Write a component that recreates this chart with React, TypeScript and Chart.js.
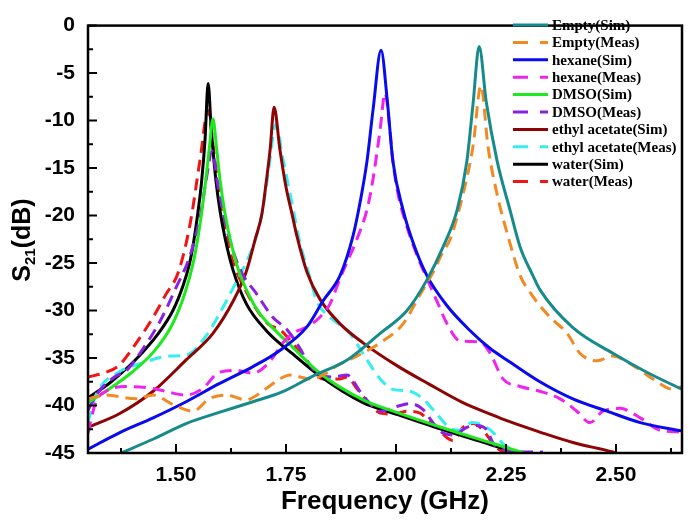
import React, { useEffect, useRef } from "react";
import { Chart, registerables } from "chart.js";

Chart.register(...registerables);

// ---- axis ticks ----
const xMajorTicks = [1.5, 1.75, 2.0, 2.25, 2.5];
const xMinorTicks = [1.375, 1.625, 1.875, 2.125, 2.375, 2.625];
const yMajorTicks = [0, -5, -10, -15, -20, -25, -30, -35, -40, -45];
const yMinorTicks = [-2.5, -7.5, -12.5, -17.5, -22.5, -27.5, -32.5, -37.5, -42.5];

// ---- series (frequency GHz, S21 dB) ----
const emptySim: number[][] = [
  [1.375, -45.0], [1.45, -43.5], [1.523, -41.9], [1.6, -40.7], [1.675, -39.6], [1.74, -38.6],
  [1.811, -36.9], [1.889, -35.2], [1.964, -32.4], [2.025, -30.0], [2.07, -26.8], [2.107, -23.3],
  [2.139, -19.4], [2.161, -14.3], [2.175, -8.3], [2.189, -2.2], [2.205, -8.0], [2.23, -14.3],
  [2.259, -19.4], [2.282, -23.3], [2.311, -26.3], [2.327, -27.8], [2.402, -31.8], [2.493, -34.5],
  [2.57, -36.5], [2.65, -38.3],
];
const emptyMeas: number[][] = [
  [1.3, -39.3], [1.341, -38.9], [1.409, -39.3], [1.448, -38.9], [1.493, -39.9], [1.539, -40.6],
  [1.575, -39.3], [1.614, -38.9], [1.659, -39.4], [1.705, -38.2], [1.736, -37.2], [1.759, -36.8],
  [1.805, -37.2], [1.834, -36.8], [1.866, -35.8], [1.911, -34.8], [1.964, -33.4], [2.016, -31.4],
  [2.055, -28.3], [2.084, -26.0], [2.107, -23.8], [2.123, -22.5], [2.152, -17.8], [2.175, -12.7],
  [2.193, -6.3], [2.209, -12.7], [2.23, -17.8], [2.259, -22.9], [2.282, -26.3], [2.311, -28.5],
  [2.35, -30.7], [2.389, -32.4], [2.418, -34.5], [2.457, -35.3], [2.493, -34.8], [2.539, -35.8],
  [2.584, -37.2], [2.63, -38.3], [2.65, -38.0],
];
const hexaneSim: number[][] = [
  [1.3, -44.6], [1.37, -42.9], [1.448, -41.3], [1.523, -39.6], [1.598, -37.7], [1.675, -35.9],
  [1.736, -34.2], [1.798, -31.7], [1.834, -29.0], [1.873, -26.3], [1.902, -22.2], [1.92, -18.2],
  [1.934, -14.3], [1.948, -8.8], [1.966, -2.6], [1.98, -7.8], [1.993, -14.3], [2.016, -19.4],
  [2.04, -23.0], [2.07, -26.3], [2.116, -29.5], [2.168, -32.1], [2.214, -34.0], [2.252, -35.2],
  [2.327, -37.5], [2.402, -39.3], [2.48, -40.6], [2.555, -41.8], [2.65, -42.7],
];
const hexaneMeas: number[][] = [
  [1.3, -42.9], [1.318, -39.6], [1.341, -38.5], [1.386, -38.0], [1.448, -38.2], [1.484, -38.6],
  [1.523, -38.9], [1.561, -38.2], [1.598, -36.5], [1.636, -36.3], [1.675, -36.6], [1.711, -35.5],
  [1.743, -33.4], [1.766, -32.4], [1.798, -31.7], [1.827, -30.7], [1.85, -29.3], [1.873, -26.6],
  [1.889, -24.9], [1.911, -22.5], [1.934, -19.4], [1.948, -16.1], [1.964, -10.9], [1.975, -7.1],
  [1.986, -10.9], [1.993, -14.3], [2.005, -17.8], [2.025, -21.2], [2.048, -24.2], [2.07, -26.6],
  [2.093, -29.0], [2.116, -31.4], [2.145, -33.2], [2.191, -33.3], [2.214, -34.5], [2.243, -37.2],
  [2.282, -38.0], [2.327, -38.5], [2.373, -39.3], [2.411, -40.6], [2.441, -41.8], [2.47, -40.6],
  [2.509, -40.3], [2.555, -41.3], [2.6, -42.6], [2.65, -42.8],
];
const dmsoSim: number[][] = [
  [1.3, -39.7], [1.35, -38.2], [1.4, -36.5], [1.45, -34.3], [1.49, -31.6], [1.52, -28.2],
  [1.54, -24.8], [1.555, -20.8], [1.567, -16.5], [1.576, -12.8], [1.584, -9.8], [1.592, -12.8],
  [1.6, -16.2], [1.613, -20.2], [1.639, -25.3], [1.665, -28.3], [1.69, -30.3], [1.73, -32.3],
  [1.766, -33.9], [1.827, -36.6], [1.925, -39.4], [2.0, -40.7], [2.116, -42.5], [2.214, -43.9],
  [2.29, -45.0],
];
const dmsoMeas: number[][] = [
  [1.3, -40.5], [1.32, -38.8], [1.36, -37.0], [1.39, -36.2], [1.418, -34.5], [1.464, -31.1],
  [1.5, -27.6], [1.532, -24.2], [1.555, -20.1], [1.568, -16.4], [1.582, -13.2], [1.595, -16.8],
  [1.616, -21.5], [1.645, -25.6], [1.684, -28.3], [1.72, -30.7], [1.752, -32.0], [1.782, -34.0],
  [1.798, -35.3], [1.827, -36.8], [1.857, -37.0], [1.889, -36.8], [1.918, -38.5], [1.941, -39.8],
  [1.964, -40.6], [2.002, -40.1], [2.032, -39.8], [2.061, -40.4], [2.084, -41.8], [2.107, -42.9],
  [2.13, -43.1], [2.161, -42.3], [2.184, -42.1], [2.207, -42.6], [2.22, -43.9], [2.252, -44.7],
  [2.298, -44.9], [2.334, -44.9],
];
const ethylSim: number[][] = [
  [1.3, -42.3], [1.37, -40.9], [1.448, -38.5], [1.523, -35.2], [1.584, -32.4], [1.63, -29.0],
  [1.659, -26.0], [1.68, -22.5], [1.695, -19.9], [1.705, -16.5], [1.714, -13.0], [1.723, -8.6],
  [1.736, -13.0], [1.75, -17.0], [1.764, -19.9], [1.775, -22.2], [1.798, -26.0], [1.827, -28.8],
  [1.873, -31.4], [1.925, -33.4], [2.002, -35.8], [2.077, -37.8], [2.152, -39.7], [2.214, -40.9],
  [2.252, -41.6], [2.327, -42.8], [2.402, -43.9], [2.493, -44.9], [2.5, -45.0],
];
const ethylMeas: number[][] = [
  [1.3, -41.8], [1.318, -38.9], [1.37, -36.5], [1.425, -35.5], [1.484, -34.8], [1.523, -34.7],
  [1.568, -32.7], [1.598, -30.4], [1.63, -27.6], [1.675, -23.2], [1.695, -19.9], [1.709, -15.7],
  [1.727, -10.4], [1.743, -14.0], [1.764, -18.8], [1.782, -22.9], [1.805, -26.6], [1.82, -29.0],
  [1.85, -30.7], [1.895, -32.4], [1.934, -35.2], [1.964, -37.2], [1.993, -38.3], [2.032, -38.5],
  [2.061, -39.3], [2.093, -40.9], [2.123, -42.4], [2.145, -42.6], [2.173, -41.8], [2.198, -42.1],
  [2.22, -42.8], [2.243, -44.0], [2.266, -44.7], [2.3, -45.0],
];
const waterSim: number[][] = [
  [1.3, -39.2], [1.35, -37.6], [1.39, -36.0], [1.42, -34.6], [1.457, -32.6], [1.493, -30.0],
  [1.516, -27.4], [1.53, -25.2], [1.54, -22.8], [1.55, -19.6], [1.558, -16.5], [1.566, -12.0],
  [1.573, -6.1], [1.58, -10.8], [1.59, -16.0], [1.6, -19.5], [1.612, -22.5], [1.63, -25.8],
  [1.66, -29.3], [1.707, -32.2], [1.766, -34.6], [1.827, -36.9], [1.925, -39.7], [2.0, -40.9],
  [2.116, -42.7], [2.214, -44.1], [2.277, -45.0],
];
const waterMeas: number[][] = [
  [1.3, -37.0], [1.341, -36.5], [1.37, -35.8], [1.41, -33.4], [1.448, -30.7], [1.477, -28.3],
  [1.505, -26.0], [1.532, -20.9], [1.555, -14.0], [1.573, -8.9], [1.586, -13.3], [1.602, -19.1],
  [1.625, -24.2], [1.655, -27.6], [1.709, -31.4], [1.736, -32.0], [1.766, -33.5], [1.798, -35.4],
  [1.834, -37.2], [1.873, -37.2], [1.889, -37.0], [1.911, -38.2], [1.941, -39.9], [1.964, -40.8],
  [1.993, -40.9], [2.025, -40.6], [2.055, -40.8], [2.07, -41.4], [2.093, -42.3], [2.116, -43.4],
  [2.13, -43.7], [2.152, -42.3], [2.175, -41.9], [2.198, -42.6], [2.22, -44.0], [2.236, -44.7],
  [2.248, -45.0],
];

const seriesLabels = [
  "Empty(Sim)", "Empty(Meas)", "hexane(Sim)", "hexane(Meas)", "DMSO(Sim)",
  "DMSO(Meas)", "ethyl acetate(Sim)", "ethyl acetate(Meas)", "water(Sim)", "water(Meas)",
];
const seriesData = [
  emptySim, emptyMeas, hexaneSim, hexaneMeas, dmsoSim,
  dmsoMeas, ethylSim, ethylMeas, waterSim, waterMeas,
];
const seriesColors = [
  "#178b8b", "#f28a24", "#0a0aee", "#f022f0", "#1ee81e",
  "#8a1fe6", "#8e0404", "#36eef0", "#000000", "#f21414",
];
const seriesDashed = [false, true, false, true, false, true, false, true, false, true];

const SANS = "'Liberation Sans', Arial, sans-serif";
const SERIF = "'Liberation Serif', 'Times New Roman', serif";

const decorPlugin = {
  id: "decor",
  afterDatasetsDraw(chart: any) {
    const { ctx, chartArea } = chart;
    const xs = chart.scales.x;
    const ys = chart.scales.y;
    const { left, right, top, bottom } = chartArea;
    ctx.save();
    ctx.strokeStyle = "#000";
    ctx.lineWidth = 2;
    ctx.setLineDash([]);
    ctx.beginPath();
    for (const v of xMajorTicks) {
      const p = xs.getPixelForValue(v);
      ctx.moveTo(p, bottom);
      ctx.lineTo(p, bottom - 9);
    }
    for (const v of xMinorTicks) {
      const p = xs.getPixelForValue(v);
      ctx.moveTo(p, bottom);
      ctx.lineTo(p, bottom - 5);
    }
    for (const v of yMajorTicks) {
      const p = ys.getPixelForValue(v);
      ctx.moveTo(left, p);
      ctx.lineTo(left + 9, p);
    }
    for (const v of yMinorTicks) {
      const p = ys.getPixelForValue(v);
      ctx.moveTo(left, p);
      ctx.lineTo(left + 5, p);
    }
    ctx.stroke();
    ctx.lineWidth = 2.5;
    ctx.strokeRect(left, top, right - left, bottom - top);

    // legend
    const lx0 = 513, lx1 = 548, ly0 = 25, dy = 17.4;
    ctx.textBaseline = "middle";
    ctx.textAlign = "left";
    ctx.font = `bold 15px ${SERIF}`;
    seriesLabels.forEach((lab, i) => {
      const y = ly0 + i * dy;
      ctx.strokeStyle = seriesColors[i];
      ctx.lineWidth = 3;
      ctx.setLineDash(seriesDashed[i] ? [15, 12] : []);
      ctx.beginPath();
      ctx.moveTo(lx0, y);
      ctx.lineTo(lx1, y);
      ctx.stroke();
      ctx.setLineDash([]);
      ctx.fillStyle = "#000";
      ctx.fillText(lab, 552, y + 1);
    });

    // x title
    ctx.fillStyle = "#000";
    ctx.textAlign = "center";
    ctx.textBaseline = "middle";
    ctx.font = `bold 26px ${SANS}`;
    ctx.fillText("Frequency (GHz)", (left + right) / 2, 502);

    // y title with subscript
    ctx.save();
    ctx.translate(23, 240);
    ctx.rotate(-Math.PI / 2);
    ctx.textAlign = "left";
    ctx.textBaseline = "middle";
    const big = `bold 25px ${SANS}`;
    const small = `bold 15px ${SANS}`;
    ctx.font = big;
    const wS = ctx.measureText("S").width;
    const wRest = ctx.measureText("(dB)").width;
    ctx.font = small;
    const wSub = ctx.measureText("21").width;
    const total = wS + wSub + wRest;
    let x = -total / 2;
    ctx.font = big;
    ctx.fillText("S", x, 0);
    x += wS;
    ctx.font = small;
    ctx.fillText("21", x, 8);
    x += wSub;
    ctx.font = big;
    ctx.fillText("(dB)", x, 0);
    ctx.restore();

    ctx.restore();
  },
};

export default function App() {
  const ref = useRef<HTMLCanvasElement | null>(null);
  useEffect(() => {
    document.body.style.margin = "0";
    const canvas = ref.current;
    if (!canvas) return;
    const chart = new Chart(canvas, {
      type: "line",
      data: {
        datasets: seriesLabels.map((label, i) => ({
          label,
          data: seriesData[i].map(([x, y]) => ({ x, y })),
          borderColor: seriesColors[i],
          backgroundColor: seriesColors[i],
          borderWidth: 3,
          borderDash: seriesDashed[i] ? [12, 7] : [],
          pointRadius: 0,
          cubicInterpolationMode: "monotone" as const,
          fill: false,
        })),
      },
      options: {
        responsive: false,
        animation: false,
        events: [],
        layout: { padding: { top: 13, right: 8, left: 0, bottom: 0 } },
        plugins: { legend: { display: false }, tooltip: { enabled: false } },
        scales: {
          x: {
            type: "linear",
            min: 1.3,
            max: 2.65,
            grid: { display: false, drawTicks: false },
            border: { display: false },
            afterBuildTicks: (s: any) => {
              s.ticks = xMajorTicks.map((v) => ({ value: v }));
            },
            afterFit: (s: any) => {
              s.height = 69;
            },
            ticks: {
              autoSkip: false,
              maxRotation: 0,
              padding: 10,
              color: "#000",
              font: { family: SANS, weight: "bold", size: 21 },
              callback: (v: any) => Number(v).toFixed(2),
            },
          },
          y: {
            type: "linear",
            min: -45,
            max: 0,
            grid: { display: false, drawTicks: false },
            border: { display: false },
            afterBuildTicks: (s: any) => {
              s.ticks = yMajorTicks.map((v) => ({ value: v }));
            },
            afterFit: (s: any) => {
              s.width = 88;
            },
            ticks: {
              autoSkip: false,
              padding: 13,
              color: "#000",
              font: { family: SANS, weight: "bold", size: 21 },
              callback: (v: any) => String(v),
            },
          },
        },
      },
      plugins: [decorPlugin],
    });
    return () => chart.destroy();
  }, []);
  return (
    <div style={{ width: 690, height: 522 }}>
      <canvas ref={ref} width={690} height={522} style={{ display: "block" }} />
    </div>
  );
}
